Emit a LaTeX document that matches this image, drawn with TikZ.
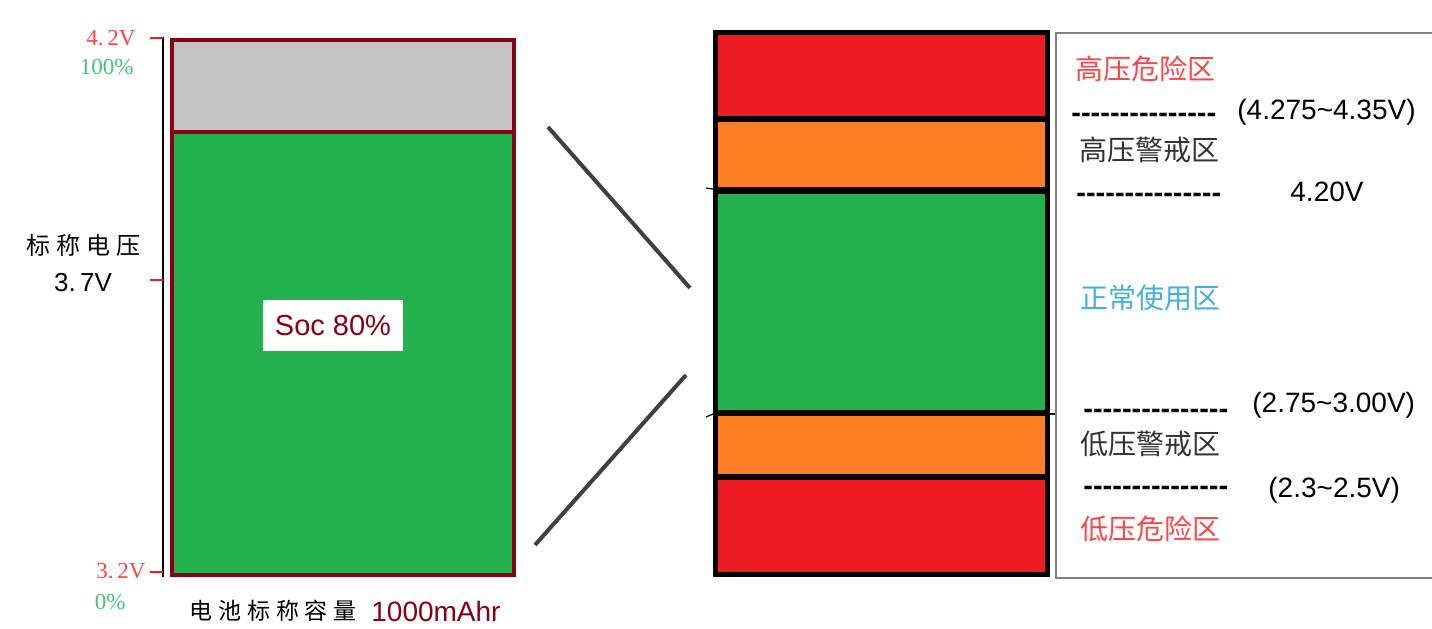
\documentclass[tikz,border=0pt]{standalone}
\usepackage{fontspec}
\setmainfont{Liberation Sans}
\newfontfamily\cjk{Noto Sans CJK SC}
\newfontfamily\cjkwide[LetterSpace=25]{Noto Sans CJK SC}
\newfontfamily\numserif{Liberation Serif}
\usetikzlibrary{positioning}
\definecolor{zred}{HTML}{ED1C24}
\definecolor{zorange}{HTML}{FF7F27}
\definecolor{zgreen}{HTML}{22B14C}
\definecolor{emptygray}{HTML}{C3C3C3}
\definecolor{battred}{HTML}{880015}
\definecolor{lblred}{HTML}{FF4545}
\definecolor{lblgreen}{HTML}{45C478}
\definecolor{lblblue}{HTML}{45AEDF}
\definecolor{lbldark}{HTML}{333333}
\definecolor{linegray}{HTML}{404040}
\newcommand{\dashrow}{-{}-{}-{}-{}-{}-{}-{}-{}-{}-{}-{}-{}-{}-{}-}

\begin{document}
\begin{tikzpicture}[x=0.5pt, y=0.5pt,
    zone/.style={inner sep=0pt, anchor=west, font=\cjk\fontsize{14}{16}\selectfont},
    volt/.style={inner sep=0pt, anchor=west, font=\fontsize{14}{16}\selectfont},
    dashes/.style={inner sep=0pt, anchor=west, font=\bfseries\fontsize{14.5}{16}\selectfont},
    axislbl/.style={inner sep=0pt, font=\numserif\fontsize{11.5}{12}\selectfont}]
  \useasboundingbox (0,0) rectangle (1432,-628);

  % battery with its axis
  \draw[line width=1pt] (163,-37) -- (163,-577);
  \foreach \y in {38,280,572}
    \draw[zred, line width=1pt] (150,-\y) -- (163,-\y);
  \fill[emptygray] (170,-38) rectangle (516,-132);
  \fill[zgreen] (170,-132) rectangle (516,-577);
  \draw[battred, line width=2pt] (172,-132) -- (514,-132);
  \draw[battred, line width=2pt] (172,-40) rectangle (514,-575);
  \node[fill=white, minimum width=70pt, minimum height=25.5pt, text=battred,
    font=\fontsize{14.5}{16}\selectfont] (soc) at (333,-325.5) {Soc 80\%};

  \node[axislbl, anchor=east, text=lblred] (fullvolt) at (136,-38) {4.\,2V};
  \node[axislbl, anchor=east, text=lblgreen, font=\numserif\fontsize{11.5}{12}\selectfont] (fullpct) at (134,-67) {100\%};
  \node[inner sep=0pt, font=\cjkwide\fontsize{12}{13}\selectfont] (nominal) at (83,-245) {标称电压};
  \node[inner sep=0pt, below=8pt of nominal, font=\fontsize{13}{14}\selectfont] (nomvolt) {3.\,7V};
  \node[axislbl, anchor=east, text=lblred] (emptyvolt) at (146,-571) {3.\,2V};
  \node[axislbl, anchor=east, text=lblgreen] (emptypct) at (126,-602) {0\%};
  \node[inner sep=0pt, anchor=east, font=\cjkwide\fontsize{11.5}{12}\selectfont] (capacity) at (357,-611) {电池标称容量};
  \node[inner sep=0pt, right=7pt of capacity, text=battred, font=\fontsize{14}{15}\selectfont] (mah) {1000mAhr};

  % zoom lines
  \coordinate (zoomtop) at (548,-127);
  \coordinate (bartop) at (690,-288);
  \coordinate (zoombot) at (535,-545);
  \coordinate (barbot) at (686,-375);
  \draw[linegray, line width=2pt] (zoomtop) -- (bartop);
  \draw[linegray, line width=2pt] (zoombot) -- (barbot);

  % zone bar
  \fill (713,-30) rectangle (1050,-577);
  \foreach \top/\bot/\col in {35/116/zred, 122/187/zorange, 194/410/zgreen, 416/474/zorange, 480/572/zred}
    \fill[\col] (718,-\top) rectangle (1045,-\bot);
  \draw[line width=0.6pt] (706,-188) -- (713,-189);
  \draw[line width=0.6pt] (706,-417) -- (713,-414);
  \draw[line width=0.6pt] (1050,-414) -- (1056,-414);

  % legend
  \draw[gray, line width=0.8pt] (1440,-33) -- (1056,-33) -- (1056,-578) -- (1440,-578);
  \node[zone, text=lblred] (hidanger) at (1075,-69) {高压危险区};
  \node[dashes] (hidash) at (1071,-118) {\dashrow};
  \node[volt] (hirange) at (1237,-112) {(4.275\textasciitilde4.35V)};
  \node[zone, text=lbldark] (hiwarn) at (1079,-150) {高压警戒区};
  \node[dashes] (fulldash) at (1076,-198) {\dashrow};
  \node[volt] (fullv) at (1290,-192) {4.20V};
  \node[zone, text=lblblue] (normal) at (1080,-298) {正常使用区};
  \node[dashes] (lodash) at (1083,-414) {\dashrow};
  \node[volt] (lorange) at (1252,-405) {(2.75\textasciitilde3.00V)};
  \node[zone, text=lbldark] (lowarn) at (1080,-444) {低压警戒区};
  \node[dashes] (cutdash) at (1083,-491) {\dashrow};
  \node[volt] (cutrange) at (1268,-490) {(2.3\textasciitilde2.5V)};
  \node[zone, text=lblred] (lodanger) at (1080,-529) {低压危险区};
\end{tikzpicture}
\end{document}
